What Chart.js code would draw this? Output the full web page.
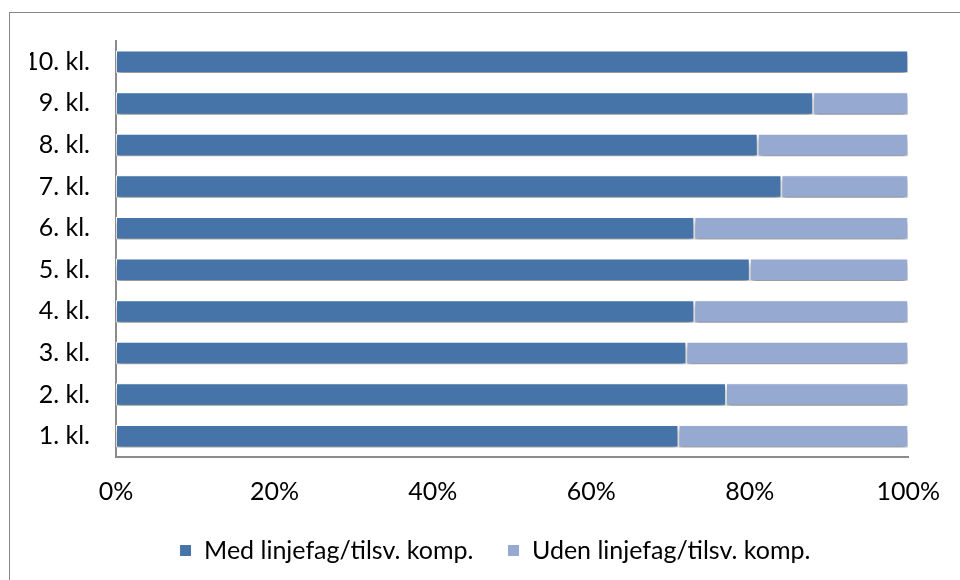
<!DOCTYPE html>
<html lang="da">
  <head>
    <meta charset="UTF-8" />
    <script src="https://cdn.jsdelivr.net/npm/chart.js"></script>
    <title>Linjefag</title>
    <style>
      html, body { margin: 0; padding: 0; background: #fff; overflow: hidden; }
      #wrap { position: absolute; left: 0; top: 0; width: 960px; height: 580px; }
      #frame { position: absolute; left: 9px; top: 12px; width: 1000px; height: 1000px; border: 1px solid #888; box-sizing: border-box; pointer-events: none; }
    </style>
  </head>
  <body>
    <div id="frame"></div>
    <div id="wrap"><canvas id="chart" width="960" height="580"></canvas></div>

    <script>
      const labels = ['10. kl.', '9. kl.', '8. kl.', '7. kl.', '6. kl.', '5. kl.', '4. kl.', '3. kl.', '2. kl.', '1. kl.']
      const medLinjefag = [100, 88, 81, 84, 73, 80, 73, 72, 77, 71]
      const udenLinjefag = [0, 12, 19, 16, 27, 20, 27, 28, 23, 29]
      const xTicks = [0, 20, 40, 60, 80, 100]

      const font = { family: 'Lato, "Open Sans", sans-serif', size: 25 }

      const shadow = {
        id: 'shadow',
        beforeDatasetsDraw(chart) {
          const ctx = chart.ctx
          ctx.save()
          ctx.shadowColor = 'rgba(0,0,0,0.45)'
          ctx.shadowBlur = 5
          ctx.shadowOffsetY = 4
        },
        afterDatasetsDraw(chart) {
          chart.ctx.restore()
        },
      }

      new Chart(document.getElementById('chart').getContext('2d'), {
        type: 'bar',
        data: {
          labels,
          datasets: [
            {
              label: 'Med linjefag/tilsv. komp.',
              data: medLinjefag,
              backgroundColor: '#4674a9',
              borderColor: '#ffffff',
              borderWidth: 1,
              borderSkipped: false,
            },
            {
              label: 'Uden linjefag/tilsv. komp.',
              data: udenLinjefag,
              backgroundColor: '#95a9d1',
              borderColor: '#ffffff',
              borderWidth: 1,
              borderSkipped: false,
            },
          ],
        },
        plugins: [shadow],
        options: {
          indexAxis: 'y',
          responsive: false,
          animation: false,
          categoryPercentage: 1,
          barPercentage: 0.54,
          layout: { padding: { left: 30, right: 0, top: 41, bottom: 7 } },
          scales: {
            x: {
              stacked: true,
              min: 0,
              max: 100,
              afterBuildTicks: (scale) => { scale.ticks = xTicks.map((v) => ({ value: v })) },
              afterFit: (scale) => { scale.height = 47 },
              grid: { display: false, drawTicks: false },
              border: { display: true, color: '#8c8c8c', width: 2 },
              ticks: {
                color: '#000',
                font,
                padding: 20,
                maxRotation: 0,
                callback: (v) => v + '%',
              },
            },
            y: {
              stacked: true,
              afterFit: (scale) => { scale.width = 86 },
              grid: { display: false, drawTicks: false },
              border: { display: true, color: '#8c8c8c', width: 2 },
              ticks: { color: '#000', font, padding: 26 },
            },
            // empty axis on the right, keeps the plot at 909 px
            yRight: {
              position: 'right',
              afterFit: (scale) => { scale.width = 49 },
              grid: { display: false, drawTicks: false },
              border: { display: false },
              ticks: { display: false },
            },
          },
          plugins: {
            tooltip: { enabled: false },
            legend: {
              position: 'bottom',
              labels: {
                color: '#000',
                font,
                boxWidth: 12,
                boxHeight: 12,
                padding: 34,
              },
            },
          },
        },
      })
    </script>
  </body>
</html>
